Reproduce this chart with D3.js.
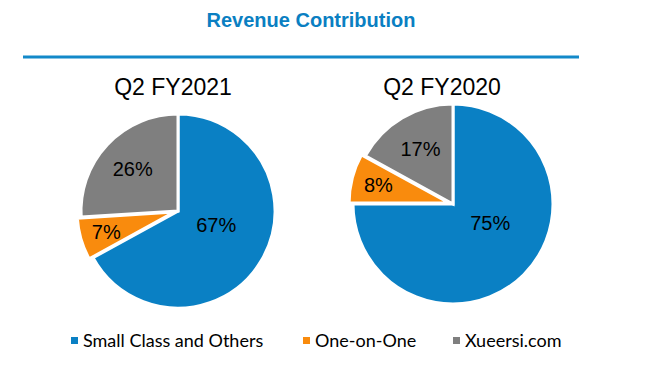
<!DOCTYPE html>
<html>
<head>
<meta charset="utf-8">
<script src="https://cdn.jsdelivr.net/npm/d3@7"></script>
<style>
  body { margin: 0; background: #fff; }
  svg { display: block; }
</style>
</head>
<body>
<svg></svg>
<script>
const size = {w: 649, h: 377};
const svg = d3.select('svg')
    .attr('width', size.w)
    .attr('height', size.h);

// data
const categories = ['Small Class and Others', 'One-on-One', 'Xueersi.com'];
const periods = ['Q2 FY2021', 'Q2 FY2020'];
const fy2021 = [67, 7, 26];
const fy2020 = [75, 8, 17];
const seriesValues = [fy2021, fy2020];

const colors = ['#0a80c4', '#f98b0d', '#7f7f7f'];
const colorScale = d3.scaleOrdinal().domain(categories).range(colors);

// title + rule
svg.append('text')
    .attr('x', 311)
    .attr('y', 27)
    .attr('text-anchor', 'middle')
    .style('font-family', 'Liberation Sans, Arial, sans-serif')
    .style('font-weight', 'bold')
    .style('font-size', '20px')
    .style('fill', '#0a7fc2')
    .text('Revenue Contribution');

svg.append('line')
    .attr('x1', 23).attr('x2', 579)
    .attr('y1', 57).attr('y2', 57)
    .style('stroke', '#1389c9')
    .style('stroke-width', 3);

// one pie per period
const pieLayout = [
    {cx: 178, cy: 211, r: 97, tx: 173},
    {cx: 453, cy: 204, r: 100, tx: 442}
];

const pie = d3.pie().sort(null).value(d => d.value);

periods.forEach((p, i) => {
    const L = pieLayout[i];
    const g = svg.append('g')
        .attr('transform', `translate(${L.cx},${L.cy})`);

    svg.append('text')
        .attr('x', L.tx)
        .attr('y', 95)
        .attr('text-anchor', 'middle')
        .style('font-family', 'Liberation Sans, Arial, sans-serif')
        .style('font-size', '23px')
        .style('fill', '#000')
        .text(p);

    const data = categories.map((c, j) => ({cat: c, value: seriesValues[i][j]}));
    const arcs = pie(data);
    const arc = d3.arc().innerRadius(0).outerRadius(L.r);

    // small "One-on-One" slice is pulled out a bit
    const explode = d => d.data.cat === 'One-on-One' ? 4 : 0;
    const shift = d => {
        const a = (d.startAngle + d.endAngle) / 2;
        const k = explode(d);
        return `translate(${Math.sin(a) * k},${-Math.cos(a) * k})`;
    };

    g.selectAll('path')
        .data(arcs)
        .join('path')
        .attr('d', arc)
        .attr('transform', shift)
        .style('fill', d => colorScale(d.data.cat))
        .style('stroke', '#fff')
        .style('stroke-width', 3)
        .style('stroke-linejoin', 'miter');

    // label placement: big slice sits closer to the centre,
    // nudged toward the right-hand side like the original
    const labelR = d => {
        const share = d.data.value / 100;
        return share > 0.5 ? L.r * 0.42 : (share > 0.1 ? L.r * 0.64 : L.r * 0.77);
    };
    const labelA = d => {
        const mid = (d.startAngle + d.endAngle) / 2;
        return d.data.value > 50 ? (mid + Math.PI * 100 / 180) / 2 : mid;
    };
    g.selectAll('text')
        .data(arcs)
        .join('text')
        .attr('x', d => Math.sin(labelA(d)) * labelR(d))
        .attr('y', d => -Math.cos(labelA(d)) * labelR(d))
        .attr('dy', '0.35em')
        .attr('text-anchor', 'middle')
        .style('font-family', 'Liberation Sans, Arial, sans-serif')
        .style('font-size', '20px')
        .style('fill', '#000')
        .text(d => d.data.value + '%');
});

// legend
const legendX = [71, 303, 453];
const legend = svg.append('g').classed('legend', true);
categories.forEach((c, j) => {
    legend.append('rect')
        .attr('x', legendX[j])
        .attr('y', 337)
        .attr('width', 7)
        .attr('height', 7)
        .style('fill', colorScale(c));
    legend.append('text')
        .attr('x', legendX[j] + 12)
        .attr('y', 347)
        .style('font-family', 'Lato, sans-serif')
        .style('font-size', '18px')
        .style('fill', '#000')
        .text(c);
});
</script>
</body>
</html>
